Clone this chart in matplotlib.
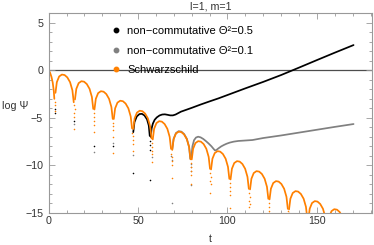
import matplotlib
matplotlib.use('Agg')
import matplotlib.pyplot as plt
from matplotlib.lines import Line2D
from matplotlib.ticker import MultipleLocator

plt.rcParams['font.family'] = ['Liberation Sans', 'DejaVu Sans']

# Schwarzschild: one list per lobe of log|Psi|
sch_t = [
    [0.0, 0.8, 1.6, 2.3, 2.9, 3.2],
    [3.83, 4.59, 5.89, 7.42, 8.94, 10.46, 11.99, 13.29, 14.05],
    [14.73, 15.49, 16.79, 18.32, 19.84, 21.36, 22.89, 24.19, 24.95],
    [25.63, 26.39, 27.69, 29.22, 30.74, 32.26, 33.79, 35.09, 35.85],
    [36.43, 37.19, 38.49, 40.02, 41.54, 43.06, 44.59, 45.89, 46.65],
    [47.33, 48.09, 49.39, 50.92, 52.44, 53.96, 55.49, 56.79, 57.55],
    [58.23, 58.99, 60.29, 61.82, 63.34, 64.86, 66.39, 67.69, 68.45],
    [69.13, 69.89, 71.19, 72.72, 74.24, 75.76, 77.29, 78.59, 79.35],
    [80.03, 80.79, 82.09, 83.62, 85.14, 86.66, 88.19, 89.49, 90.25],
    [90.83, 91.59, 92.89, 94.42, 95.94, 97.46, 98.99, 100.29, 101.05],
    [101.73, 102.49, 103.79, 105.32, 106.84, 108.36, 109.89, 111.19, 111.95],
    [112.63, 113.39, 114.69, 116.22, 117.74, 119.26, 120.79, 122.09, 122.85],
    [123.53, 124.29, 125.59, 127.12, 128.64, 130.16, 131.69, 132.99, 133.75],
    [134.43, 135.19, 136.49, 138.02, 139.54, 141.06, 142.59, 143.89, 144.65],
    [145.23, 145.99, 147.29, 148.82, 150.34, 151.86, 153.39, 154.69, 155.45],
    [156.13, 156.89, 158.19, 159.72, 161.24, 162.76, 164.29],
]
sch_y = [
    [0.0, -0.25, -0.7, -1.3, -2.2, -3.0],
    [-2.37, -1.25, -0.65, -0.45, -0.5, -0.75, -1.25, -2.1, -3.36],
    [-3.07, -1.95, -1.35, -1.15, -1.2, -1.45, -1.95, -2.8, -4.06],
    [-4.12, -3.0, -2.4, -2.2, -2.25, -2.5, -3.0, -3.85, -5.11],
    [-5.12, -4.0, -3.4, -3.2, -3.25, -3.5, -4.0, -4.85, -6.11],
    [-6.17, -5.05, -4.45, -4.25, -4.3, -4.55, -5.05, -5.9, -7.16],
    [-7.27, -6.15, -5.55, -5.35, -5.4, -5.65, -6.15, -7.0, -8.26],
    [-8.37, -7.25, -6.65, -6.45, -6.5, -6.75, -7.25, -8.1, -9.36],
    [-9.37, -8.25, -7.65, -7.45, -7.5, -7.75, -8.25, -9.1, -10.36],
    [-10.42, -9.3, -8.7, -8.5, -8.55, -8.8, -9.3, -10.15, -11.41],
    [-11.47, -10.35, -9.75, -9.55, -9.6, -9.85, -10.35, -11.2, -12.46],
    [-12.52, -11.4, -10.8, -10.6, -10.65, -10.9, -11.4, -12.25, -13.51],
    [-13.57, -12.45, -11.85, -11.65, -11.7, -11.95, -12.45, -13.3, -14.56],
    [-14.62, -13.5, -12.9, -12.7, -12.75, -13.0, -13.5, -14.35, -15.61],
    [-15.67, -14.55, -13.95, -13.75, -13.8, -14.05, -14.55, -15.4, -16.66],
    [-16.52, -15.4, -14.8, -14.6, -14.65, -14.9, -15.4],
]
# scattered points down the cusps
sch_dip_t = [3.4, 3.6, 3.5,
             14.3, 14.5, 14.35, 14.45, 14.4,
             25.2, 25.4, 25.25, 25.35, 25.3,
             36.0, 36.2, 36.05, 36.15, 36.1,
             46.9, 47.1, 46.95, 47.05, 47.0,
             57.8, 58.0, 57.85, 57.95, 57.9,
             68.7, 68.9, 68.75, 68.85, 68.8,
             79.6, 79.8, 79.65, 79.75, 79.7,
             90.4, 90.6, 90.45, 90.55, 90.5,
             101.3, 101.5, 101.35, 101.45, 101.4,
             112.2, 112.4, 112.25, 112.35, 112.3,
             123.1, 123.3, 123.15, 123.25,
             134.0, 134.2]
sch_dip_y = [-3.35, -3.7, -4.25,
             -3.7, -4.1, -4.5, -4.9, -6.2,
             -4.5, -4.9, -5.3, -5.7, -6.45,
             -5.5, -5.9, -6.3, -7.0, -8.7,
             -6.55, -6.95, -7.35, -7.8, -8.5,
             -7.65, -8.05, -8.45, -8.8, -9.6,
             -8.75, -9.15, -9.55, -10.0, -11.3,
             -9.75, -10.15, -10.55, -11.0, -11.9,
             -10.8, -11.2, -11.6, -12.0, -12.9,
             -11.85, -12.25, -12.65, -13.1, -14.5,
             -12.9, -13.3, -13.7, -14.1, -14.4,
             -13.95, -14.35, -14.75, -14.95,
             -14.8, -14.95]

# non-commutative, Theta^2 = 0.5 (only where it leaves the Schwarzschild curve)
nc05_t = [
    [47.33, 48.0, 49.3, 50.8, 52.2, 53.6, 55.0, 56.0, 56.55],
    [57.1, 57.6, 58.3, 59.3, 60.5, 62.0, 63.5, 65.0, 66.5, 68.0, 69.5, 71.0,
     72.5, 74.0, 77.0, 80.0, 85.0, 90.0, 95.0, 100.0, 110.0, 120.0, 130.0,
     140.0, 150.0, 160.0, 170.5],
]
nc05_y = [
    [-6.5, -5.45, -4.85, -4.6, -4.58, -4.75, -5.15, -5.8, -6.9],
    [-7.0, -6.1, -5.6, -5.2, -4.95, -4.75, -4.65, -4.63, -4.68, -4.74, -4.74, -4.65,
     -4.5, -4.35, -4.15, -3.95, -3.6, -3.27, -2.95, -2.6, -1.9, -1.22, -0.5,
     0.28, 1.07, 1.85, 2.65],
]
nc05_dip_t = [3.45, 3.55, 14.35, 25.25, 36.05, 46.95, 56.75, 56.8, 56.85, 56.8]
nc05_dip_y = [-4.1, -4.5, -5.3, -8.0, -8.0, -10.8, -7.4, -7.9, -8.4, -11.5]

# non-commutative, Theta^2 = 0.1
nc01_t = [
    [69.13, 69.89, 71.19, 72.72, 74.24, 75.76, 77.29, 78.55, 79.2],
    [79.8, 80.4, 81.3, 82.4, 83.6, 85.0, 86.5, 88.0, 89.5, 91.0, 92.2, 93.0, 93.8,
     95.0, 96.5, 98.0, 99.5, 101.3, 103.5, 106.0, 110.0, 114.0, 120.0, 130.0,
     140.0, 150.0, 160.0, 170.5],
]
nc01_y = [
    [-8.3, -7.2, -6.6, -6.4, -6.45, -6.7, -7.2, -8.05, -9.3],
    [-9.2, -8.0, -7.35, -7.07, -6.98, -7.05, -7.22, -7.45, -7.7, -7.98, -8.25, -8.42, -8.38,
     -8.2, -8.0, -7.85, -7.72, -7.6, -7.5, -7.43, -7.38, -7.33, -7.12, -6.85,
     -6.55, -6.25, -5.95, -5.65],
]
nc01_dip_t = [14.45, 25.35, 36.15, 47.05, 57.95, 68.7, 68.9, 68.8, 79.4, 79.5, 79.45, 79.5]
nc01_dip_y = [-5.65, -8.55, -7.6, -8.9, -9.1, -9.0, -9.4, -14.0, -9.8, -10.2, -10.6, -12.1]

labels = ['non\u2212commutative \u0398\u00b2=0.5',
          'non\u2212commutative \u0398\u00b2=0.1',
          'Schwarzschild']
colors = ['black', '#808080', '#ff8000']

fig = plt.figure(figsize=(3.74, 2.45), dpi=100)
ax = fig.add_axes([0.130, 0.1306, 0.8655, 0.8175])

ax.axhline(0, color='#4d4d4d', lw=0.9, zorder=1)

series = [(nc05_t, nc05_y, nc05_dip_t, nc05_dip_y),
          (nc01_t, nc01_y, nc01_dip_t, nc01_dip_y),
          (sch_t, sch_y, sch_dip_t, sch_dip_y)]
for (ts, ys, dt, dy), c in zip(series, colors):
    for t, y in zip(ts, ys):
        ax.plot(t, y, color=c, lw=1.25, solid_capstyle='round', zorder=2)
    ax.scatter(dt, dy, s=1.3, color=c, lw=0, zorder=2)

ax.set_xlim(0, 181)
ax.set_ylim(-15, 6.05)
ax.xaxis.set_major_locator(MultipleLocator(50))
ax.xaxis.set_minor_locator(MultipleLocator(10))
ax.yaxis.set_major_locator(MultipleLocator(5))
ax.yaxis.set_minor_locator(MultipleLocator(1))
ax.tick_params(which='both', direction='in', top=True, right=True,
               color='#999999', width=0.6, labelsize=7.7, labelcolor='#333333')
ax.tick_params(which='major', length=4)
ax.tick_params(which='minor', length=2)
ax.tick_params(axis='x', pad=2)
ax.tick_params(axis='y', pad=4)
for s in ax.spines.values():
    s.set_color('#999999')
    s.set_linewidth(0.8)

ax.set_title('l=1, m=1', fontsize=7.7, pad=2.5, color='#333333')
ax.set_xlabel('t', fontsize=7.7, color='#333333', va='top')
ax.xaxis.set_label_coords(0.5, -0.105)
ax.set_ylabel('log \u03a8', fontsize=7.7, color='#333333', rotation=0,
              ha='left', va='center')
ax.yaxis.set_label_coords(-0.144, 0.534)

handles = [Line2D([], [], ls='', marker='o', markersize=3.2, color=c) for c in colors]
ax.legend(handles, labels, loc='upper left', bbox_to_anchor=(0.19, 0.932),
          frameon=False, fontsize=8, handlelength=1.0, handletextpad=0.52,
          labelspacing=0.85, borderpad=0, borderaxespad=0)

fig.savefig('out.png', dpi=100)
